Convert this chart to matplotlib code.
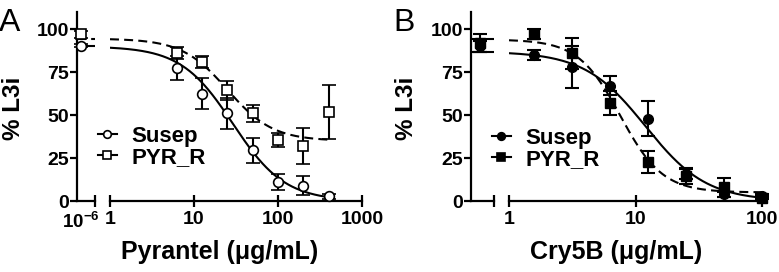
import numpy as np
import matplotlib
matplotlib.use("Agg")
import matplotlib.pyplot as plt
from matplotlib.lines import Line2D

plt.rcParams["font.family"] = ["Liberation Sans", "DejaVu Sans"]
plt.rcParams["font.weight"] = "bold"
plt.rcParams["mathtext.fontset"] = "custom"
plt.rcParams["mathtext.bf"] = "Liberation Sans:bold"
plt.rcParams["mathtext.rm"] = "Liberation Sans:bold"

W, H = 779, 272

# Panel A : pyrantel
pyr_ctrl = 1e-6
pyr_conc = [6.25, 12.5, 25, 50, 100, 200, 400]
pyr_sus_ctrl, pyr_sus_ctrl_err = 90.5, 1.0
pyr_sus = [77.5, 62.5, 51, 29.5, 11, 9, 2.8]
pyr_sus_err = [7, 9, 9, 7.3, 4.5, 5.5, 1.5]
pyr_res_ctrl, pyr_res_ctrl_err = 97, 2.0
pyr_res = [85.9, 81, 64.5, 51, 35.5, 32, 52]
pyr_res_err = [3.5, 3.5, 5.5, 5, 4, 10.7, 15.8]
# courbes ajustées (top, bottom, EC50, pente de Hill)
pyr_sus_fit = (90, 0, 29, 1.4)
pyr_res_fit = (94.5, 35, 25, 1.6)

# Panel B : Cry5B
cry_ctrl = 1e-6
cry_conc = [1.5625, 3.125, 6.25, 12.5, 25, 50, 100]
cry_sus_ctrl, cry_sus_ctrl_err = 90, 3
cry_sus = [85, 78, 67, 48, 16, 4, 3]
cry_sus_err = [3, 12, 5.5, 10, 3, 1.5, 1]
cry_res_ctrl, cry_res_ctrl_err = 92, 5
cry_res = [97, 86, 57, 22.8, 14.5, 8, 2]
cry_res_err = [3, 9, 7, 6.5, 4.4, 5.5, 1]
cry_sus_fit = (87, 0, 12, 1.8)
cry_res_fit = (94, 5, 7.6, 2.6)


def logistic(x, top, bottom, ec50, hill):
    return bottom + (top - bottom) / (1 + (x / ec50) ** hill)


fig = plt.figure(figsize=(W / 100, H / 100), dpi=100)


def add_ax(l, r, t=12, b=201):
    return fig.add_axes([l / W, 1 - b / H, (r - l) / W, (b - t) / H])


def panel(stub_lr, main_lr, xmax, ctrl, ctrl_frac, ctrl_label, conc,
          sus_ctrl, sus_ctrl_err, sus, sus_err, res_ctrl, res_ctrl_err, res, res_err,
          sus_fit, res_fit, filled, letter, xlabel, leg_xy):
    stub = add_ax(*stub_lr)
    main = add_ax(*main_lr)
    for ax in (stub, main):
        ax.set_ylim(0, 110)
        ax.patch.set_alpha(0)
        for s in ("top", "right"):
            ax.spines[s].set_visible(False)
        for s in ("left", "bottom"):
            ax.spines[s].set_linewidth(1.6)

    stub.set_xlim(0, ctrl * ctrl_frac)
    main.set_xscale("log")
    main.set_xlim(1, xmax)
    main.spines["left"].set_visible(False)
    main.tick_params(axis="y", left=False, labelleft=False)
    main.set_xticks([10 ** k for k in range(int(np.log10(xmax)) + 1)])
    main.set_xticklabels([f"{10 ** k:g}" for k in range(int(np.log10(xmax)) + 1)])
    main.xaxis.set_minor_locator(plt.NullLocator())
    main.tick_params(axis="x", direction="inout", length=9, width=1.6,
                     labelsize=14, pad=2.5)

    stub.set_yticks([0, 25, 50, 75, 100])
    stub.tick_params(axis="y", direction="out", length=5, width=1.6,
                     labelsize=14, pad=1)
    stub.set_xticks([ctrl])
    stub.set_xticklabels([ctrl_label])
    stub.set_xticks([ctrl * ctrl_frac], minor=True)
    stub.tick_params(axis="x", which="major", length=0, labelsize=13.5, pad=7.5)
    stub.tick_params(axis="x", which="minor", direction="inout", length=9, width=1.6)

    if filled:
        sus_kw = dict(marker="o", ms=7, mfc="black", mec="black")
        res_kw = dict(marker="s", ms=6.5, mfc="black", mec="black")
    else:
        sus_kw = dict(marker="o", ms=7, mfc="white", mec="black", mew=1.2)
        res_kw = dict(marker="s", ms=7, mfc="white", mec="black", mew=1.2)
    eb = dict(ls="none", ecolor="black", elinewidth=1.5, capsize=5, capthick=1.5,
              clip_on=False)

    # points témoins dans le segment gauche
    stub.errorbar([ctrl], [sus_ctrl], yerr=[sus_ctrl_err], zorder=3, **eb, **sus_kw)
    stub.errorbar([ctrl], [res_ctrl], yerr=[res_ctrl_err], zorder=4, **eb, **res_kw)
    xs = np.linspace(0, ctrl * ctrl_frac, 10)
    stub.plot(xs, logistic(xs, *sus_fit), color="black", lw=1.5, zorder=2)
    stub.plot(xs, logistic(xs, *res_fit), color="black", lw=1.5, dashes=(4.3, 2.5), zorder=2)

    xc = np.logspace(0, np.log10(max(conc)), 300)
    main.plot(xc, logistic(xc, *sus_fit), color="black", lw=1.5, zorder=2)
    main.plot(xc, logistic(xc, *res_fit), color="black", lw=1.5, dashes=(4.3, 2.5), zorder=2)
    main.errorbar(conc, sus, yerr=sus_err, zorder=3, **eb, **sus_kw)
    main.errorbar(conc, res, yerr=res_err, zorder=4, **eb, **res_kw)

    handles = [
        Line2D([], [], color="black", lw=1.5, marker="o", ms=5.5,
               mfc=sus_kw["mfc"], mec="black", mew=1.2),
        Line2D([], [], color="black", lw=1.5, marker="s", ms=5.5,
               mfc=res_kw["mfc"], mec="black", mew=1.2),
    ]
    main.legend(handles, ["Susep", "PYR_R"], loc="upper left",
                bbox_to_anchor=(leg_xy[0] / W, 1 - leg_xy[1] / H),
                bbox_transform=fig.transFigure, frameon=False, fontsize=16,
                borderpad=0, borderaxespad=0, handlelength=0.85,
                handletextpad=0.65, labelspacing=0.0)

    l = stub_lr[0]
    r = main_lr[1]
    fig.text((l + r) / 2 / W, 1 - 252 / H, xlabel, ha="center", va="center",
             fontsize=18, fontweight="bold")
    fig.text((l - 64) / W, 1 - 108 / H, "% L3i", ha="center", va="center",
             rotation=90, fontsize=17.5, fontweight="bold")
    fig.text((l - 78) / W, 1 - 8 / H, letter, ha="left", va="top",
             fontsize=23, fontweight="normal")


panel((77, 95), (110, 362), 1000, pyr_ctrl, 4.5, r"$\mathbf{10^{-6}}$", pyr_conc,
      pyr_sus_ctrl, pyr_sus_ctrl_err, pyr_sus, pyr_sus_err,
      pyr_res_ctrl, pyr_res_ctrl_err, pyr_res, pyr_res_err,
      pyr_sus_fit, pyr_res_fit, False, "A", "Pyrantel (\u03bcg/mL)", (98, 126))

panel((471, 494), (509, 762), 100, cry_ctrl, 2.55, "", cry_conc,
      cry_sus_ctrl, cry_sus_ctrl_err, cry_sus, cry_sus_err,
      cry_res_ctrl, cry_res_ctrl_err, cry_res, cry_res_err,
      cry_sus_fit, cry_res_fit, True, "B", "Cry5B (\u03bcg/mL)", (492, 128))

fig.savefig("out.png", dpi=100)
